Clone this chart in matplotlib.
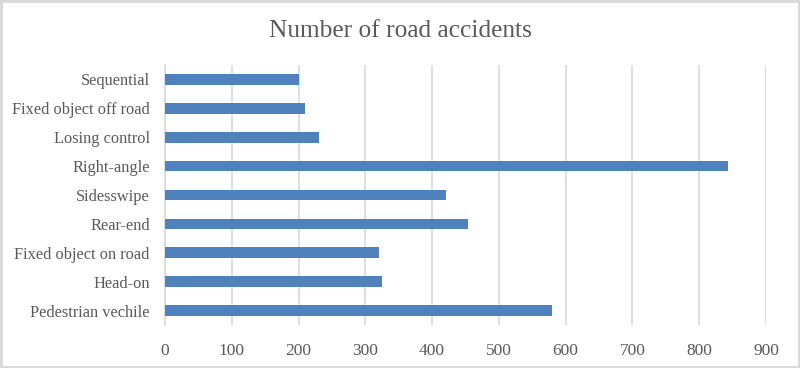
import numpy as np
import matplotlib.pyplot as plt

# data, bottom to top as drawn
categories = ["Pedestrian vechile", "Head-on", "Fixed object on road", "Rear-end",
              "Sidesswipe", "Right-angle", "Losing control", "Fixed object off road",
              "Sequential"]
accidents = [580, 325, 320, 454, 421, 843, 231, 210, 200]
xticks = [0, 100, 200, 300, 400, 500, 600, 700, 800, 900]

plt.rcParams['font.family'] = ['Liberation Serif', 'DejaVu Serif']
txt = '#595959'

fig = plt.figure(figsize=(8, 3.68), dpi=100, edgecolor='#D9D9D9', linewidth=2.5)
ax = fig.add_axes([165/800, 43/368, 601/800, 260/368])

y = np.arange(len(categories))
ax.barh(y, accidents, height=0.37, color='#4F81BD', zorder=3)

ax.set_xlim(0, 900)
ax.set_ylim(-0.5, len(categories) - 0.5)
ax.set_xticks(xticks)
ax.set_xticklabels([str(v) for v in xticks], fontsize=12.5, color=txt)
ax.set_yticks(y)
ax.set_yticklabels(categories, fontsize=11.8, color=txt)
ax.tick_params(axis='x', length=0, pad=13)
ax.tick_params(axis='y', length=0, pad=11)

ax.grid(axis='x', color='#D9D9D9', linewidth=1.2, zorder=0)
for s in ['top', 'right', 'bottom']:
    ax.spines[s].set_visible(False)
ax.spines['left'].set_color('#D9D9D9')
ax.spines['left'].set_linewidth(1.2)

fig.text(0.5, 0.915, "Number of road accidents", ha='center', va='center',
         fontsize=18.3, color=txt)

fig.savefig('out.png', dpi=100, edgecolor=fig.get_edgecolor())
